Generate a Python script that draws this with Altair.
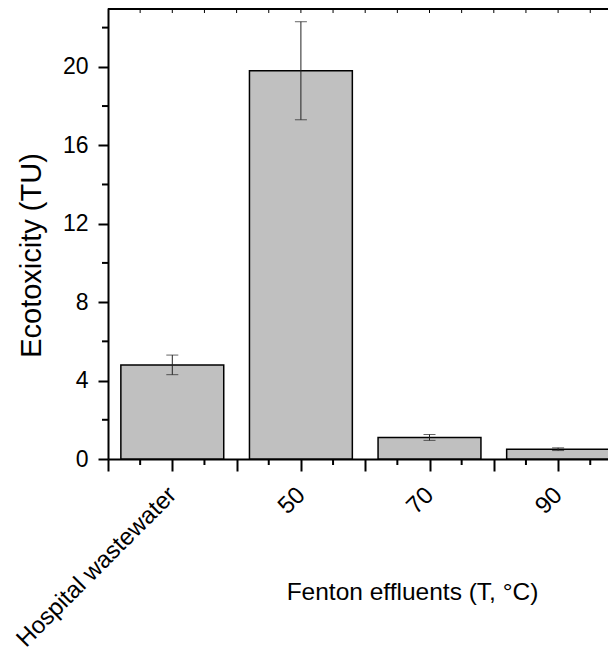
import json
import altair as alt
import pandas as pd

categories = ["Hospital wastewater", "50", "70", "90"]
positions = [0, 1, 2, 3]
values = [4.8, 19.8, 1.1, 0.5]
errors = [0.5, 2.5, 0.15, 0.07]

x_major_ticks = [-0.5, 0, 0.5, 1, 1.5, 2, 2.5, 3]
x_minor_ticks = [-0.25, 0.25, 0.75, 1.25, 1.75, 2.25, 2.75, 3.25]
top_ticks = [-0.25, 0, 0.25, 0.5, 0.75, 1, 1.25, 1.5, 1.75, 2, 2.25, 2.5, 2.75, 3, 3.25]
y_major_ticks = [0, 4, 8, 12, 16, 20]
y_minor_ticks = [2, 6, 10, 14, 18, 22]

W, H = 500, 451
FONT = "Liberation Sans"

df = pd.DataFrame({"cat": categories, "pos": positions, "val": values, "err": errors})

xs = alt.Scale(domain=[-0.5, 3.388], nice=False, zero=False)
ys = alt.Scale(domain=[0, 23], nice=False)

label_expr = f"{json.dumps(categories)}[datum.value] || ''"

base = alt.Chart(df)

bars = base.transform_calculate(
    lo="datum.pos - 0.4", hi="datum.pos + 0.4"
).mark_bar(fill="#c0c0c0", stroke="black", strokeWidth=1.5).encode(
    x=alt.X("lo:Q", scale=xs, axis=alt.Axis(
        values=x_major_ticks, labelExpr=label_expr, labelAngle=-45,
        labelAlign="right", labelBaseline="middle", labelPadding=20,
        labelFontSize=24, labelFont=FONT, labelColor="black", labelLimit=0,
        tickSize=12, tickWidth=2, tickColor="black",
        domainWidth=2, domainColor="black", grid=False,
        title="Fenton effluents (T, °C)", titleFont=FONT, titleFontSize=24.5,
        titleFontWeight="normal", titleColor="black",
        titleX=304, titleY=133, titleAlign="center", titleBaseline="middle",
        labelOverlap=False, labelFlush=False, labelBound=False)),
    x2="hi:Q",
    y=alt.Y("val:Q", scale=ys, axis=alt.Axis(
        values=y_major_ticks, labelFontSize=23, labelFont=FONT, labelColor="black",
        labelPadding=10, tickSize=10, tickWidth=2, tickColor="black",
        domainWidth=2, domainColor="black", grid=False,
        title="Ecotoxicity (TU)", titleFont=FONT, titleFontSize=29,
        titleFontWeight="normal", titleColor="black",
        titleX=-77, titleY=247, titleAlign="center", titleBaseline="middle",
        titleAngle=-90)),
    y2=alt.datum(0),
)

err = base.transform_calculate(
    elo="datum.val - datum.err", ehi="datum.val + datum.err"
)
err_rule = err.mark_rule(color="#222222", strokeWidth=1).encode(
    x=alt.X("pos:Q", scale=xs), y=alt.Y("elo:Q", scale=ys), y2="ehi:Q"
)
cap_lo = err.mark_tick(color="#222222", thickness=1, size=12, orient="horizontal").encode(
    x=alt.X("pos:Q", scale=xs), y=alt.Y("elo:Q", scale=ys)
)
cap_hi = err.mark_tick(color="#222222", thickness=1, size=12, orient="horizontal").encode(
    x=alt.X("pos:Q", scale=xs), y=alt.Y("ehi:Q", scale=ys)
)

xminor = alt.Chart(pd.DataFrame({"t": x_minor_ticks})).mark_rule(
    color="black", strokeWidth=2).encode(
    x=alt.X("t:Q", scale=xs), y=alt.value(H), y2=alt.value(H + 6))

yminor = alt.Chart(pd.DataFrame({"t": y_minor_ticks})).mark_rule(
    color="black", strokeWidth=2).encode(
    y=alt.Y("t:Q", scale=ys), x=alt.value(-6), x2=alt.value(0))

topline = alt.Chart(pd.DataFrame({"t": [0]})).mark_rule(
    color="black", strokeWidth=2).encode(
    x=alt.value(0), x2=alt.value(W), y=alt.value(1))

topticks = alt.Chart(pd.DataFrame({"t": top_ticks})).mark_rule(
    color="black", strokeWidth=1).encode(
    x=alt.X("t:Q", scale=xs), y=alt.value(1), y2=alt.value(5))

chart = alt.layer(bars, err_rule, cap_lo, cap_hi, xminor, yminor, topline, topticks).properties(
    width=W, height=H,
    autosize=alt.AutoSizeParams(type="none"),
    padding={"left": 100, "top": 0, "right": 0, "bottom": 194},
).configure_view(stroke=None)

chart.save("out.html", embed_options={"renderer": "svg", "actions": False})
